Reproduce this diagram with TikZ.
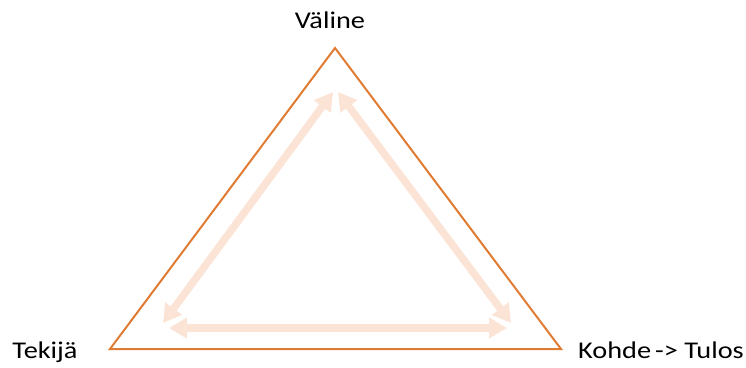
\documentclass[tikz,border=0pt]{standalone}
\usepackage{fontspec}
\setmainfont{Carlito}[FakeStretch=1.18]
\usetikzlibrary{arrows.meta}
\definecolor{edgeorange}{HTML}{E07B33}
\definecolor{peach}{HTML}{FBE3D6}
\tikzset{
  tri/.style={draw=edgeorange, line width=2pt, line join=miter},
  link/.style={draw=peach, line width=7.5pt, {Triangle[length=18pt,width=20pt]}-{Triangle[length=18pt,width=20pt]}},
  lbl/.style={font=\fontsize{24}{28}\selectfont, text=black, inner sep=0pt, anchor=base}
}
\begin{document}
\begin{tikzpicture}[x=1pt,y=-1pt]
\useasboundingbox (0,0) rectangle (746,367);
\coordinate (T) at (335,48);
\coordinate (L) at (110,349);
\coordinate (R) at (561,349);
\draw[tri] (T) -- (L) -- (R) -- cycle;
\coordinate (a1) at (333,92);
\coordinate (a2) at (163,323);
\coordinate (b1) at (338,92);
\coordinate (b2) at (511,323);
\coordinate (c1) at (169,328);
\coordinate (c2) at (507,328);
\draw[link] (a1) -- (a2);
\draw[link] (b1) -- (b2);
\draw[link] (c1) -- (c2);
\node[lbl] (valine) at (330,28) {Väline};
\node[lbl] (tekija) at (45,358) {Tekijä};
\node[lbl] (kohde) at (661,358) {Kohde\,-> Tulos};
\end{tikzpicture}
\end{document}
